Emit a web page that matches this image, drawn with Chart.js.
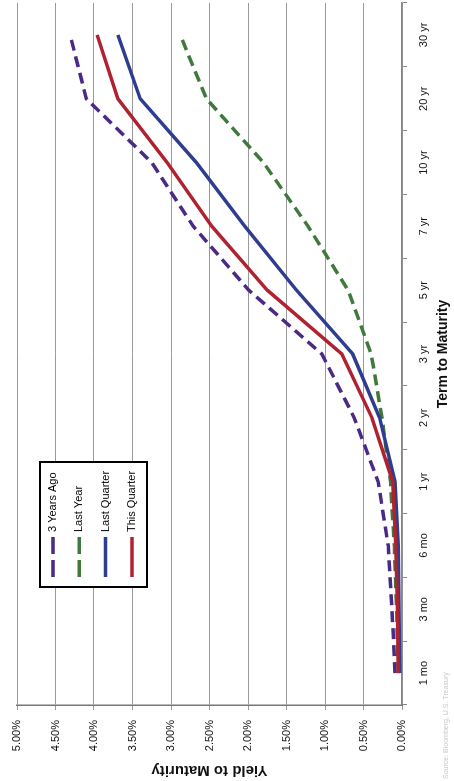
<!DOCTYPE html>
<html>
<head>
<meta charset="utf-8">
<script src="https://cdn.jsdelivr.net/npm/chart.js@4.4.1/dist/chart.umd.min.js"></script>
<style>
  html, body { margin: 0; padding: 0; background: #fff; overflow: hidden; }
  /* the chart is printed sideways: draw it landscape and turn it */
  #wrap {
    position: absolute; left: 0; top: 0;
    width: 781px; height: 454px;
    transform-origin: 0 0;
    transform: translateY(781px) rotate(-90deg);
  }
</style>
</head>
<body>
<div id="wrap"><canvas id="myChart" width="781" height="454"></canvas></div>
<script>
// Lấy dữ liệu đường cong lợi suất
const terms = ['1 mo', '3 mo', '6 mo', '1 yr', '2 yr', '3 yr', '5 yr', '7 yr', '10 yr', '20 yr', '30 yr'];
const threeYearsAgo = [0.09, 0.13, 0.18, 0.31, 0.62, 1.04, 1.99, 2.71, 3.25, 4.10, 4.31];
const lastYear      = [0.05, 0.07, 0.10, 0.15, 0.26, 0.40, 0.70, 1.22, 1.80, 2.54, 2.88];
const lastQuarter   = [0.03, 0.04, 0.05, 0.09, 0.29, 0.64, 1.37, 2.04, 2.67, 3.40, 3.69];
const thisQuarter   = [0.05, 0.06, 0.08, 0.12, 0.39, 0.78, 1.75, 2.47, 3.05, 3.69, 3.96];
const yieldTicks = [0, 0.5, 1, 1.5, 2, 2.5, 3, 3.5, 4, 4.5, 5];

const FONT = '"Liberation Sans", Arial, sans-serif';

// legend box drawn inside the plot, like the Excel one
const legendBox = {
    id: 'legendBox',
    afterDraw(chart) {
        const ctx = chart.ctx;
        const area = chart.chartArea;
        const x = area.left + 118, y = area.top + 23, w = 125, h = 107;
        ctx.save();
        ctx.fillStyle = '#fff';
        ctx.fillRect(x, y, w, h);
        ctx.strokeStyle = '#000';
        ctx.lineWidth = 2;
        ctx.strokeRect(x, y, w, h);
        chart.data.datasets.forEach((ds, i) => {
            const cy = y + 13 + i * 26.3;
            ctx.strokeStyle = ds.borderColor;
            ctx.lineWidth = 3.5;
            ctx.setLineDash(ds.borderDash ? [17, 6] : []);
            ctx.beginPath();
            ctx.moveTo(x + 10, cy);
            ctx.lineTo(x + 50, cy);
            ctx.stroke();
            ctx.setLineDash([]);
            ctx.fillStyle = '#000';
            ctx.font = '11px ' + FONT;
            ctx.textBaseline = 'middle';
            ctx.fillText(ds.label, x + 55, cy);
        });
        // source note, very faint in the scan
        ctx.fillStyle = '#c8c8c8';
        ctx.font = '7px ' + FONT;
        ctx.textBaseline = 'middle';
        ctx.fillText('Source: Bloomberg, U.S. Treasury', 2, 446);
        ctx.restore();
    }
};

const data = {
    labels: terms,
    datasets: [
        {
            label: '3 Years Ago',
            data: threeYearsAgo,
            borderColor: '#4a2a86',
            borderDash: [11, 6],
            order: 1
        },
        {
            label: 'Last Year',
            data: lastYear,
            borderColor: '#3f7a3c',
            borderDash: [11, 6],
            order: 3
        },
        {
            label: 'Last Quarter',
            data: lastQuarter,
            borderColor: '#2e3d8e',
            order: 2
        },
        {
            label: 'This Quarter',
            data: thisQuarter,
            borderColor: '#b0222f',
            order: 0
        }
    ]
};

const ctx = document.getElementById('myChart').getContext('2d');
const myChart = new Chart(ctx, {
    type: 'line',
    data: data,
    options: {
        responsive: false,
        animation: false,
        devicePixelRatio: 1,
        layout: { padding: { left: 0, right: 3, top: 17, bottom: 0 } },
        elements: {
            line: { borderWidth: 3.5, tension: 0, fill: false },
            point: { radius: 0 }
        },
        plugins: {
            legend: { display: false },
            tooltip: { enabled: false }
        },
        scales: {
            x: {
                offset: true,
                grid: { display: true, drawOnChartArea: false, offset: true, tickLength: 5, color: '#888' },
                border: { display: true, color: '#888', width: 1.5 },
                ticks: { color: '#111', font: { family: FONT, size: 11 }, padding: 10, maxRotation: 0, autoSkip: false },
                title: { display: true, text: 'Term to Maturity', color: '#111', font: { family: FONT, size: 14, weight: 'bold' }, padding: { top: 4, bottom: 2 } },
                afterFit(scale) { scale.height = 52; }
            },
            y: {
                min: 0,
                max: 5,
                afterBuildTicks(scale) { scale.ticks = yieldTicks.map(v => ({ value: v })); },
                grid: { color: '#9a9a9a', lineWidth: 1, tickLength: 5 },
                border: { display: true, color: '#777', width: 1.5 },
                ticks: {
                    color: '#111',
                    font: { family: FONT, size: 11 },
                    padding: 10,
                    callback: v => v.toFixed(2) + '%'
                },
                title: { display: true, text: 'Yield to Maturity', color: '#111', font: { family: FONT, size: 15, weight: 'bold' }, padding: { top: 2, bottom: 2 } },
                afterFit(scale) { scale.width = 76; }
            }
        }
    },
    plugins: [legendBox]
});
</script>
</body>
</html>
